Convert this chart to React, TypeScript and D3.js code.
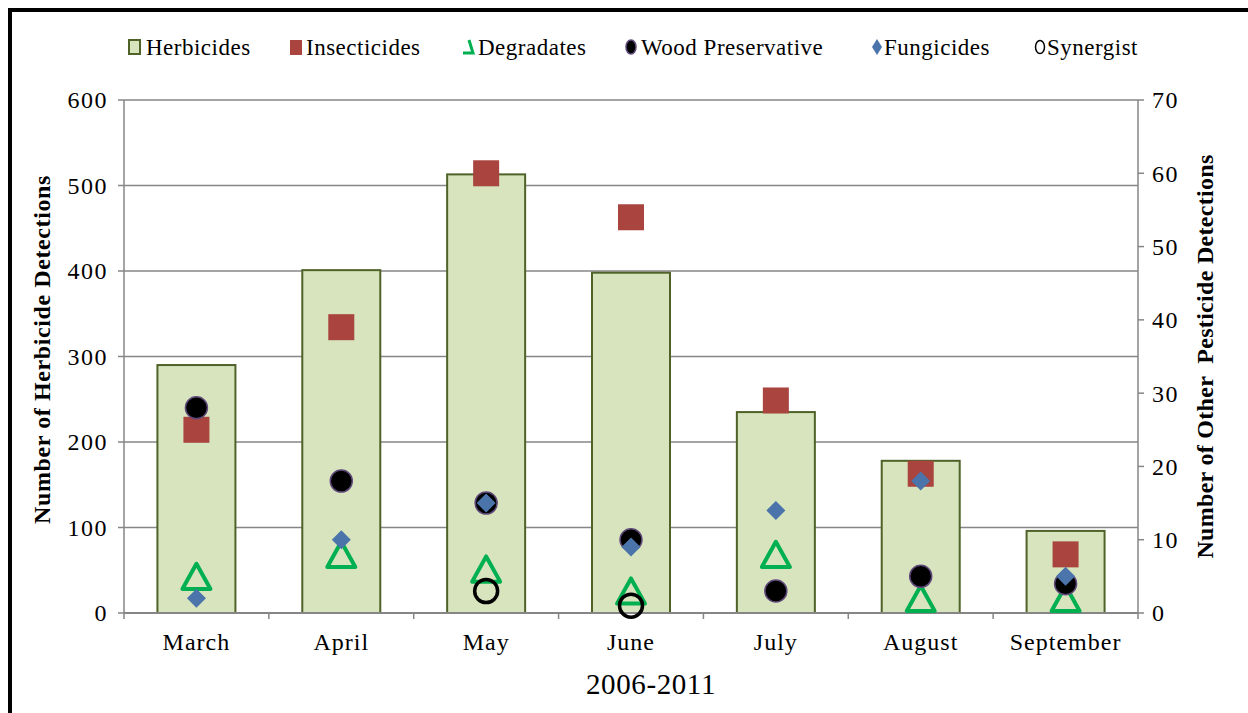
import React from "react";
import * as d3 from "d3";

const months = ["March", "April", "May", "June", "July", "August", "September"];
const herbicides = [290, 401, 513, 398, 235, 178, 96];
const insecticides = [25, 39, 60, 54, 29, 19, 8];
const degradates = [5, 8, 6, 3, 8, 2, 2];
const woodPreservative = [28, 18, 15, 10, 3, 5, 4];
const fungicides = [2, 10, 15, 9, 14, 18, 5];
const synergist: (number | null)[] = [null, null, 3, 1, null, null, null];
const leftTicks = [0, 100, 200, 300, 400, 500, 600];
const rightTicks = [0, 10, 20, 30, 40, 50, 60, 70];

const W = 1248;
const H = 713;
const M = { left: 124, right: 1138, top: 100, bottom: 613 };
const FONT = "'Liberation Serif', 'Times New Roman', serif";
const AXIS = "#868686";

export default function App() {
  const band = d3.scaleBand<string>().domain(months).range([M.left, M.right]);
  const yL = d3.scaleLinear().domain([0, 600]).range([M.bottom, M.top]);
  const yR = d3.scaleLinear().domain([0, 70]).range([M.bottom, M.top]);
  const cx = (m: string) => (band(m) as number) + band.bandwidth() / 2;
  const bw = 78;

  const tri = (s: number) => {
    const h = s * 0.9;
    return `M0,${-h / 2}L${s / 2},${h / 2}L${-s / 2},${h / 2}Z`;
  };
  const boundaries = d3.range(months.length + 1).map((i) => M.left + i * band.bandwidth());

  const legendY = 47;

  return (
    <svg width={W} height={H} style={{ display: "block", position: "absolute", left: 0, top: 0 }} fontFamily={FONT}>
      <rect x={0} y={0} width={W} height={H} fill="#fff" />
      <rect x={10} y={10} width={W + 20} height={H + 20} fill="none" stroke="#000" strokeWidth={4} />

      {/* gridlines */}
      {leftTicks.filter((t) => t > 0).map((t) => (
        <line key={t} x1={M.left} x2={M.right} y1={yL(t)} y2={yL(t)} stroke={AXIS} strokeWidth={1.5} />
      ))}

      {/* bars */}
      {months.map((m, i) => (
        <rect key={m} x={cx(m) - bw / 2} y={yL(herbicides[i])} width={bw} height={M.bottom - yL(herbicides[i])}
          fill="#D7E4BD" stroke="#4F6228" strokeWidth={2} />
      ))}

      {/* axes */}
      <line x1={M.left} x2={M.left} y1={M.top} y2={M.bottom} stroke={AXIS} strokeWidth={1.5} />
      <line x1={M.right} x2={M.right} y1={M.top} y2={M.bottom} stroke={AXIS} strokeWidth={1.5} />
      <line x1={M.left} x2={M.right} y1={M.bottom} y2={M.bottom} stroke={AXIS} strokeWidth={2} />
      {leftTicks.map((t) => (
        <g key={t}>
          <line x1={M.left - 6} x2={M.left} y1={yL(t)} y2={yL(t)} stroke={AXIS} strokeWidth={1.5} />
          <text x={M.left - 16} y={yL(t)} dy="0.35em" textAnchor="end" fontSize={24} letterSpacing={1.5}>{t}</text>
        </g>
      ))}
      {rightTicks.map((t) => (
        <g key={t}>
          <line x1={M.right} x2={M.right + 6} y1={yR(t)} y2={yR(t)} stroke={AXIS} strokeWidth={1.5} />
          <text x={M.right + 14} y={yR(t)} dy="0.35em" textAnchor="start" fontSize={24} letterSpacing={1.5}>{t}</text>
        </g>
      ))}
      {boundaries.map((b, i) => (
        <line key={i} x1={b} x2={b} y1={M.bottom} y2={M.bottom + 6} stroke={AXIS} strokeWidth={1.5} />
      ))}
      {months.map((m) => (
        <text key={m} x={cx(m)} y={650} textAnchor="middle" fontSize={24} letterSpacing={1}>{m}</text>
      ))}
      <text x={651} y={694} textAnchor="middle" fontSize={29} letterSpacing={0.6}>2006-2011</text>

      <text transform={`translate(50,${(M.top + M.bottom) / 2 - 7}) rotate(-90)`} textAnchor="middle" fontSize={24} fontWeight="bold" letterSpacing={0.6}>
        Number of Herbicide Detections
      </text>
      <text transform={`translate(1213,${(M.top + M.bottom) / 2}) rotate(-90)`} textAnchor="middle" fontSize={24} fontWeight="bold" letterSpacing={0.3} style={{ whiteSpace: "pre" }}>
        {"Number of Other  Pesticide Detections"}
      </text>

      {/* series */}
      {months.map((m, i) => (
        <rect key={"ins" + m} x={cx(m) - 13} y={yR(insecticides[i]) - 13} width={26} height={26} fill="#A9443F" />
      ))}
      {months.map((m, i) => (
        <path key={"deg" + m} d={tri(28)} transform={`translate(${cx(m)},${yR(degradates[i])})`} fill="none" stroke="#00B050" strokeWidth={4} strokeLinejoin="round" />
      ))}
      {months.map((m, i) => (
        <circle key={"wood" + m} cx={cx(m)} cy={yR(woodPreservative[i])} r={11} fill="#000" stroke="#604A7B" strokeWidth={1.5} />
      ))}
      {months.map((m, i) => (
        <path key={"fun" + m} d="M0,-9.5L9.5,0L0,9.5L-9.5,0Z" transform={`translate(${cx(m)},${yR(fungicides[i])})`} fill="#4A74AA" />
      ))}
      {months.map((m, i) =>
        synergist[i] == null ? null : (
          <circle key={"syn" + m} cx={cx(m)} cy={yR(synergist[i] as number)} r={11.5} fill="none" stroke="#000" strokeWidth={3.5} />
        )
      )}

      {/* legend */}
      <g fontSize={23} letterSpacing={0.5}>
        <rect x={129} y={legendY - 7} width={11} height={14} fill="#D7E4BD" stroke="#4F6228" strokeWidth={2} />
        <text x={146} y={legendY} dy="0.35em">Herbicides</text>
        <rect x={290} y={legendY - 7} width={12} height={15} fill="#A9443F" />
        <text x={306} y={legendY} dy="0.35em">Insecticides</text>
        <path d={`M${469},${legendY - 7}L${473},${legendY + 6}L${463},${legendY + 6}`} fill="none" stroke="#00B050" strokeWidth={3} />
        <text x={478} y={legendY} dy="0.35em">Degradates</text>
        <ellipse cx={631} cy={legendY} rx={5} ry={7} fill="#000" stroke="#604A7B" strokeWidth={1.5} />
        <text x={641} y={legendY} dy="0.35em">Wood Preservative</text>
        <path d={`M877,${legendY - 8}L882,${legendY}L877,${legendY + 8}L872,${legendY}Z`} fill="#4A74AA" />
        <text x={884} y={legendY} dy="0.35em">Fungicides</text>
        <ellipse cx={1040} cy={legendY} rx={4.5} ry={6.5} fill="none" stroke="#000" strokeWidth={1.5} />
        <text x={1047} y={legendY} dy="0.35em">Synergist</text>
      </g>
    </svg>
  );
}
